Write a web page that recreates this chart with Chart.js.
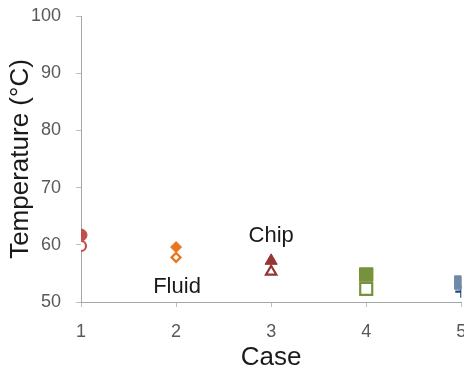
<!DOCTYPE html>
<html>
<head>
<meta charset="utf-8">
<script src="https://cdn.jsdelivr.net/npm/chart.js@4"></script>
<style>
  html, body { margin: 0; padding: 0; background: #fff; overflow: hidden; }
  #chart { display: block; }
</style>
</head>
<body>
<canvas id="chart" width="472" height="370"></canvas>
<script>
// chart data
const cases = [1, 2, 3, 4, 5];
const chipTemp = [61.7, 59.6, 57.2, 54.8, 53.4];
const fluidTemp = [59.8, 57.8, 55.3, 52.3, 51.8];
const yTicks = [50, 60, 70, 80, 90, 100];

// marker look per case
const caseColors = ['#c0504d', '#e8761f', '#943634', '#76923c', '#6f8aa8'];
const fluidColors = ['#c0504d', '#e8761f', '#943634', '#76923c', '#1f497d'];
const chipStyles = ['circle', 'rectRot', 'triangle', 'rect', 'rect'];
const fluidStyles = ['circle', 'rectRot', 'triangle', 'rect', 'cross'];
const markerSizes = [6, 5.5, 7, 9.5, 9.5];

// text labels placed in data units
const notes = [
    { text: 'Chip', x: 3, y: 60.5 },
    { text: 'Fluid', x: 2.01, y: 51.6 }
];

const FONT = '"Liberation Sans", Arial, sans-serif';

// Draw Chip / Fluid notes
const notePlugin = {
    id: 'notes',
    afterDatasetsDraw(chart) {
        const ctx = chart.ctx;
        const xs = chart.scales.x, ys = chart.scales.y;
        ctx.save();
        ctx.font = '22px ' + FONT;
        ctx.fillStyle = '#1a1a1a';
        ctx.textAlign = 'center';
        ctx.textBaseline = 'alphabetic';
        notes.forEach(n => {
            ctx.fillText(n.text, xs.getPixelForValue(n.x), ys.getPixelForValue(n.y));
        });
        ctx.restore();
    }
};

const ctx = document.getElementById('chart').getContext('2d');
new Chart(ctx, {
    type: 'scatter',
    data: {
        datasets: [
            {
                label: 'Chip',
                data: cases.map((c, i) => ({ x: c, y: chipTemp[i] })),
                pointStyle: chipStyles,
                pointRadius: markerSizes,
                pointBackgroundColor: caseColors,
                pointBorderColor: caseColors,
                pointBorderWidth: 1
            },
            {
                label: 'Chip mark',
                data: [{ x: cases[4], y: chipTemp[4] }],
                pointStyle: 'cross',
                pointRadius: 6,
                pointBorderColor: '#1a1a1a',
                pointBorderWidth: 2.5
            },
            {
                label: 'Fluid',
                data: cases.map((c, i) => ({ x: c, y: fluidTemp[i] })),
                pointStyle: fluidStyles,
                pointRadius: markerSizes.map((r, i) => i === 4 ? 6 : r - 1),
                pointBackgroundColor: '#ffffff',
                pointBorderColor: fluidColors,
                pointBorderWidth: 2.2
            }
        ]
    },
    options: {
        responsive: false,
        animation: false,
        layout: { padding: { top: 16, right: 0, left: 0, bottom: 0 } },
        plugins: {
            legend: { display: false },
            tooltip: { enabled: false }
        },
        scales: {
            x: {
                type: 'linear',
                min: 1,
                max: 5,
                afterFit: s => { s.height = 68; s.paddingLeft = 0; s.paddingRight = 0; s.paddingTop = 0; s.paddingBottom = 0; },
                ticks: {
                    stepSize: 1,
                    padding: 14,
                    color: '#595959',
                    font: { family: FONT, size: 18 }
                },
                grid: { drawOnChartArea: false, drawTicks: true, tickLength: 5, color: '#bfbfbf' },
                border: { color: '#a6a6a6', width: 1 },
                title: {
                    display: true,
                    text: 'Case',
                    color: '#1a1a1a',
                    font: { family: FONT, size: 26 },
                    padding: { top: 0, bottom: -3 }
                }
            },
            y: {
                min: 50,
                max: 100,
                afterFit: s => { s.width = 81; s.paddingTop = 0; s.paddingBottom = 0; s.paddingLeft = 0; s.paddingRight = 0; },
                afterBuildTicks: s => { s.ticks = yTicks.map(v => ({ value: v })); },
                ticks: {
                    padding: 15,
                    color: '#595959',
                    font: { family: FONT, size: 18 }
                },
                grid: { drawOnChartArea: false, drawTicks: true, tickLength: 5, color: '#bfbfbf' },
                border: { color: '#a6a6a6', width: 1 },
                title: {
                    display: true,
                    text: 'Temperature (°C)',
                    color: '#1a1a1a',
                    font: { family: FONT, size: 26 },
                    padding: { top: 5, bottom: 0 }
                }
            }
        }
    },
    plugins: [notePlugin]
});
</script>
</body>
</html>
